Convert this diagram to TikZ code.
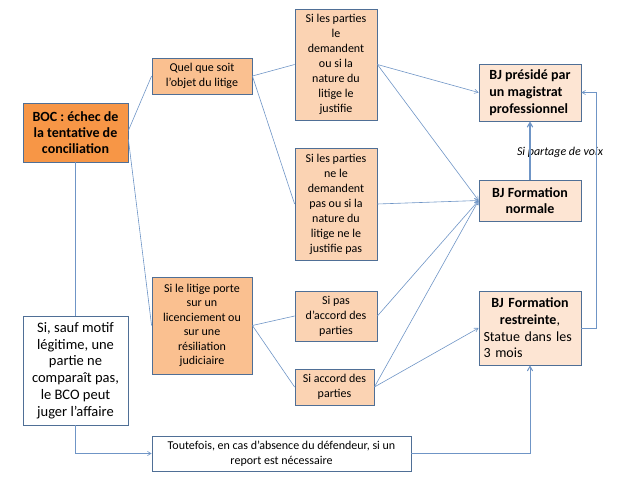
\documentclass[tikz,border=0pt]{standalone}
\usepackage{fontspec}
\setmainfont{Carlito}
\usepackage{xcolor}
\usetikzlibrary{arrows}
\definecolor{boxline}{HTML}{4F6F96}
\definecolor{linkline}{HTML}{6F95C6}
\definecolor{orangedark}{HTML}{F79646}
\definecolor{orangemid}{HTML}{FAC090}
\definecolor{orangelight}{HTML}{FBD3B3}
\definecolor{orangepale}{HTML}{FDE5D3}
\tikzset{
  box/.style={draw=boxline, line width=0.8pt, inner sep=0pt, align=center},
  bocbox/.style={box, fill=orangedark, font=\bfseries\fontsize{14}{16}\selectfont},
  choicebox/.style={box, fill=orangemid, font=\fontsize{12}{14.5}\selectfont},
  casebox/.style={box, fill=orangelight, font=\fontsize{12}{15}\selectfont},
  bjbox/.style={box, fill=orangepale, font=\fontsize{14}{16.7}\selectfont},
  notebox/.style={box, fill=white},
  link/.style={draw=linkline, line width=0.6pt},
  linkarrow/.style={link, ->, >=angle 60}
}
\begin{document}
\begin{tikzpicture}[x=1pt, y=-1pt]
\useasboundingbox (0,0) rectangle (638,479);
\node[bocbox, minimum width=105pt, minimum height=59pt] (boc) at (75.5,132.5)
  {BOC : échec de\\la tentative de\\conciliation};
\node[choicebox, minimum width=100pt, minimum height=36pt] (quel) at (202,76)
  {Quel que soit\\l’objet du litige};
\node[choicebox, minimum width=100pt, minimum height=97pt] (litige) at (202,325.5)
  {Si le litige porte\\sur un\\licenciement ou\\sur une\\résiliation\\judiciaire};
\node[notebox, minimum width=105pt, minimum height=109pt, font=\fontsize{14.5}{16.7}\selectfont] (sauf) at (75.5,370.5)
  {Si, sauf motif\\légitime, une\\partie ne\\comparaît pas,\\le BCO peut\\juger l’affaire};
\node[casebox, minimum width=82pt, minimum height=111pt] (dem) at (336,64.5)
  {Si les parties\\le\\demandent\\ou si la\\nature du\\litige le\\justifie};
\node[casebox, minimum width=82pt, minimum height=112pt] (nodem) at (336,204)
  {Si les parties\\ne le\\demandent\\pas ou si la\\nature du\\litige ne le\\justifie pas};
\node[casebox, minimum width=82pt, minimum height=50pt] (pasacc) at (336,316)
  {Si pas\\d’accord des\\parties};
\node[casebox, minimum width=79pt, minimum height=36pt] (acc) at (334.5,387)
  {Si accord des\\parties};
\node[bjbox, align=left, minimum width=102pt, minimum height=57pt, font=\bfseries\fontsize{14}{16.7}\selectfont] (pres) at (530,92.5)
  {BJ présidé par\\un magistrat\\professionnel};
\node[bjbox, minimum width=102pt, minimum height=41pt, font=\bfseries\fontsize{14}{16.7}\selectfont] (norm) at (530,200.5)
  {BJ Formation\\normale};
\node[bjbox, align=left, text width=93pt, minimum width=102pt, minimum height=74pt] (restr) at (530,328)
  {{\centering\textbf{BJ Formation}\\\textbf{restreinte},\par}Statue dans les\\3 mois};
\node[notebox, minimum width=259pt, minimum height=35pt, font=\fontsize{12}{15}\selectfont] (tout) at (281.5,453.5)
  {Toutefois, en cas d’absence du défendeur, si un\\report est nécessaire};
\node[font=\itshape\fontsize{12}{14}\selectfont] (partage) at (560,152) {Si partage de voix};
\draw[link] ([yshift=2pt]boc.east) -- (quel.west);
\draw[link] ([yshift=-7pt]boc.east) -- (litige.west);
\draw[link] (boc.south) -- (sauf.north);
\draw[link] (quel.east) -- (dem.west);
\draw[link] (quel.east) -- (nodem.west);
\draw[link] (litige.east) -- (pasacc.west);
\draw[link] (litige.east) -- (acc.west);
\draw[linkarrow] (dem.east) -- (pres.west);
\draw[linkarrow] (dem.east) -- (norm.west);
\draw[linkarrow] (nodem.east) -- (norm.west);
\draw[linkarrow] (pasacc.east) -- (norm.west);
\draw[linkarrow] (acc.east) -- (norm.west);
\draw[linkarrow] (acc.east) -- (restr.west);
\draw[linkarrow, line width=1.1pt] (norm.north) -- (pres.south);
\draw[linkarrow] (restr.east) -- ++(15,0) |- (pres.east);
\draw[linkarrow] (sauf.south) |- (tout.west);
\draw[linkarrow, line width=1pt] (tout.east) -| (restr.south);
\end{tikzpicture}
\end{document}
